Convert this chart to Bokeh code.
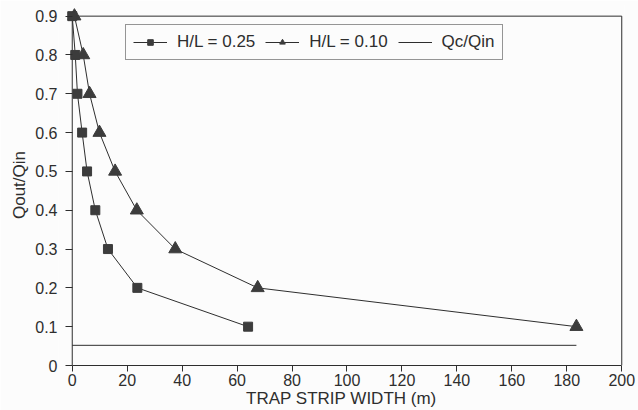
from bokeh.plotting import figure
from bokeh.models import Legend, LegendItem, FixedTicker, Range1d
from bokeh.embed import file_html
from bokeh.resources import INLINE

# Outflow ratio vs trap strip width for two slope ratios
q_ratio = [0.9, 0.8, 0.7, 0.6, 0.5, 0.4, 0.3, 0.2, 0.1]
width_hl_025 = [0.0, 1.1, 1.9, 3.6, 5.4, 8.4, 13.0, 23.7, 64.0]
width_hl_010 = [0.8, 4.0, 6.3, 9.9, 15.6, 23.5, 37.5, 67.5, 183.5]

# Critical flow ratio Qc/Qin
qc_x = [0.0, 183.5]
qc_y = [0.052, 0.052]

x_ticks = [0, 20, 40, 60, 80, 100, 120, 140, 160, 180, 200]
y_ticks = [0, 0.1, 0.2, 0.3, 0.4, 0.5, 0.6, 0.7, 0.8, 0.9]

FONT = "Liberation Sans"
INK = "#2e2e2e"
BG = "#fcfcfc"

x0, x1 = x_ticks[0], x_ticks[-1]
y0, y1 = y_ticks[0], y_ticks[-1]

# ranges padded a little so markers on the box edges are not cut off
p = figure(width=638, height=410, output_backend="svg", toolbar_location=None,
           x_range=Range1d(-5, 201), y_range=Range1d(0, 0.93),
           min_border_left=58, min_border_right=14, min_border_top=4,
           min_border_bottom=44)
p.background_fill_color = BG
p.border_fill_color = BG
p.outline_line_color = None
p.grid.visible = False

# left, top and right edges of the axes box
p.segment(x0=[x0, x0, x1], y0=[y0, y1, y0], x1=[x0, x1, x1], y1=[y1, y1, y1],
          line_color=INK, line_width=1)

l3 = p.line(qc_x, qc_y, line_color=INK, line_width=1)
l1 = p.line(width_hl_025, q_ratio, line_color=INK, line_width=1)
l2 = p.line(width_hl_010, q_ratio, line_color=INK, line_width=1)
m2 = p.scatter(width_hl_010, q_ratio, marker="triangle", size=13,
               fill_color="#3c3c3c", line_color="#3c3c3c")
m1 = p.scatter(width_hl_025, q_ratio, marker="square", size=9,
               fill_color="#3c3c3c", line_color="#3c3c3c")

for ax in (p.xaxis[0], p.yaxis[0]):
    ax.axis_line_color = INK
    ax.major_tick_line_color = INK
    ax.minor_tick_line_color = None
    ax.major_label_text_font = FONT
    ax.major_label_text_font_size = "16px"
    ax.major_label_text_color = INK
    ax.axis_label_text_font = FONT
    ax.axis_label_text_font_size = "17px"
    ax.axis_label_text_font_style = "normal"
    ax.axis_label_text_color = INK

p.xaxis.major_tick_in = 0
p.xaxis.major_tick_out = 6
p.xaxis.ticker = FixedTicker(ticks=x_ticks)
p.xaxis.bounds = (x0, x1)
p.xaxis.axis_label = "TRAP STRIP WIDTH (m)"
p.xaxis.axis_label_standoff = 0
p.xaxis.major_label_standoff = 2

# y axis sits at the frame edge; its ticks are shifted in to reach x = 0
p.yaxis.axis_line_color = None
p.yaxis.major_tick_in = 14
p.yaxis.major_tick_out = -7
p.yaxis.major_label_standoff = 1
p.yaxis.ticker = FixedTicker(ticks=y_ticks)
p.yaxis.bounds = (y0, y1)
p.yaxis.major_label_overrides = {0: "0"}
p.yaxis.axis_label = "Qout/Qin"
p.yaxis.axis_label_standoff = 3

legend = Legend(items=[
    LegendItem(label="H/L = 0.25", renderers=[l1, m1]),
    LegendItem(label="H/L = 0.10", renderers=[l2, m2]),
    LegendItem(label="Qc/Qin", renderers=[l3]),
], orientation="horizontal", location=(67, 305))
legend.label_text_font = FONT
legend.label_text_font_size = "17px"
legend.label_text_color = INK
legend.border_line_color = INK
legend.border_line_width = 1
legend.background_fill_color = BG
legend.background_fill_alpha = 1
legend.glyph_width = 34
legend.glyph_height = 14
legend.padding = 7
legend.spacing = 10
legend.margin = 0
legend.label_standoff = 10
p.add_layout(legend)

open("out.html", "w").write(file_html(p, INLINE))
